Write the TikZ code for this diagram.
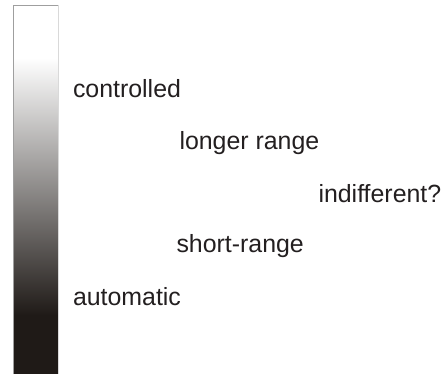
\documentclass[tikz,border=0pt]{standalone}
\usepackage{fontspec}
\setmainfont{Liberation Sans}
\definecolor{bardark}{HTML}{1F1A17}
\definecolor{txt}{HTML}{231F20}
\begin{document}
\begin{tikzpicture}[x=1bp,y=-1bp,
  lbl/.style={anchor=base west,inner sep=0pt,outer sep=0pt,text=txt,font=\fontsize{24.9bp}{28bp}\selectfont}]
\useasboundingbox (0,0) rectangle (444,374);
% gradient bar
\fill[white] (13,5) rectangle (58,58);
\shade[top color=white,bottom color=bardark] (13,57.5) rectangle (58,315.5);
\fill[bardark] (13,315) rectangle (58,374);
\draw[gray!75,line width=0.8bp] (13,374) -- (13,5) -- (58,5);
\draw[gray!30,line width=1bp] (58,5) -- (58,374);
% labels
\node[lbl] (controlled) at (73,97) {controlled};
\node[lbl] (longer) at (179.5,149) {longer range};
\node[lbl] (indiff) at (318.5,202) {indifferent?};
\node[lbl] (short) at (176.5,252) {short-range};
\node[lbl] (auto) at (73,305) {automatic};
\end{tikzpicture}
\end{document}
